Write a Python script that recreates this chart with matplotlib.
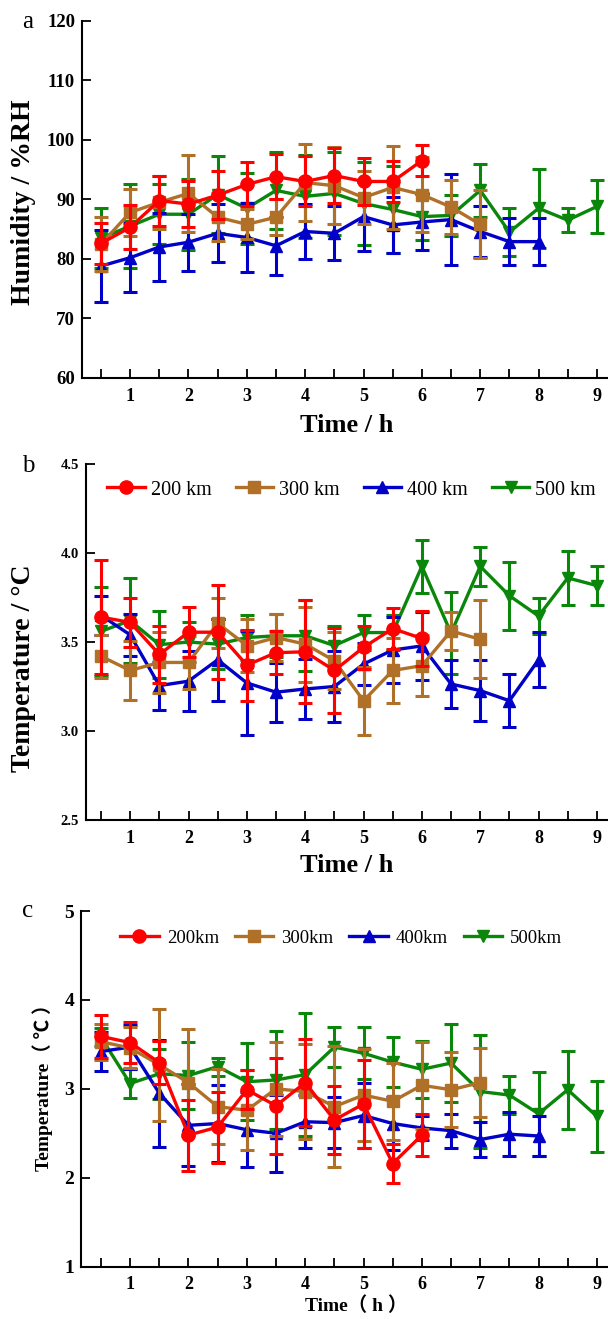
import matplotlib
matplotlib.use("Agg")
import matplotlib.pyplot as plt
from matplotlib.lines import Line2D
import numpy as np

plt.rcParams['font.family'] = ['Liberation Serif', 'Noto Sans CJK SC', 'DejaVu Sans']
plt.rcParams['mathtext.fontset'] = 'stix'

# ---------------- data ----------------
series_names = ["200 km", "300 km", "400 km", "500 km"]
series_names_c = ["200km", "300km", "400km", "500km"]
colors = ["#FF0000", "#B07028", "#0000C8", "#0A870A"]
markers = ["o", "s", "^", "v"]

x_200 = [0.5, 1, 1.5, 2, 2.5, 3, 3.5, 4, 4.5, 5, 5.5, 6]
x_300 = [0.5, 1, 1.5, 2, 2.5, 3, 3.5, 4, 4.5, 5, 5.5, 6, 6.5, 7]
x_400 = [0.5, 1, 1.5, 2, 2.5, 3, 3.5, 4, 4.5, 5, 5.5, 6, 6.5, 7, 7.5, 8]
x_500 = [0.5, 1, 1.5, 2, 2.5, 3, 3.5, 4, 4.5, 5, 5.5, 6, 6.5, 7, 7.5, 8, 8.5, 9]

# panel a: humidity (%RH)
hum_200 = [82.6, 85.3, 89.8, 89.2, 90.7, 92.5, 93.8, 93.0, 94.0, 93.0, 93.0, 96.5]
hum_200_err = [3.4, 3.7, 4.2, 3.8, 4.0, 3.7, 3.8, 4.2, 4.6, 3.9, 3.5, 2.6]
hum_300 = [82.5, 87.8, 89.5, 91.0, 87.0, 85.8, 87.0, 92.8, 92.3, 90.3, 92.0, 90.8, 88.7, 85.8]
hum_300_err = [4.5, 4.0, 4.5, 6.5, 4.0, 2.5, 3.0, 6.5, 6.5, 4.5, 7.0, 6.3, 4.6, 5.7]
hum_400 = [78.8, 80.2, 82.0, 82.8, 84.3, 83.6, 82.2, 84.6, 84.3, 87.1, 85.7, 86.2, 86.6, 84.6, 82.9, 82.9]
hum_400_err = [6.0, 5.8, 5.7, 4.8, 4.9, 5.8, 4.9, 4.7, 4.5, 5.8, 4.7, 4.7, 7.6, 4.2, 3.9, 3.9]
hum_500 = [83.5, 85.5, 87.5, 87.5, 90.8, 88.5, 91.5, 90.5, 91.0, 89.3, 88.3, 87.1, 87.3, 91.5, 84.5, 88.5, 86.5, 88.8]
hum_500_err = [5.0, 7.0, 5.0, 6.0, 6.5, 6.0, 6.5, 7.0, 7.0, 7.0, 7.3, 4.0, 3.5, 4.5, 4.0, 6.6, 2.0, 4.4]

# panel b: temperature (°C)
tb_200 = [3.64, 3.61, 3.43, 3.555, 3.555, 3.37, 3.44, 3.445, 3.34, 3.47, 3.575, 3.52]
tb_200_err = [0.32, 0.14, 0.16, 0.14, 0.265, 0.2, 0.12, 0.29, 0.24, 0.12, 0.115, 0.155]
tb_300 = [3.42, 3.34, 3.385, 3.385, 3.605, 3.48, 3.525, 3.488, 3.395, 3.17, 3.34, 3.367, 3.562, 3.515]
tb_300_err = [0.12, 0.165, 0.17, 0.15, 0.14, 0.15, 0.13, 0.21, 0.16, 0.19, 0.185, 0.17, 0.105, 0.22]
tb_400 = [3.65, 3.54, 3.255, 3.28, 3.40, 3.27, 3.218, 3.236, 3.25, 3.376, 3.455, 3.478, 3.264, 3.227, 3.17, 3.40]
tb_400_err = [0.11, 0.12, 0.135, 0.17, 0.23, 0.29, 0.165, 0.17, 0.2, 0.12, 0.185, 0.19, 0.135, 0.17, 0.15, 0.155]
tb_500 = [3.56, 3.62, 3.485, 3.50, 3.488, 3.525, 3.535, 3.535, 3.48, 3.553, 3.553, 3.925, 3.55, 3.925, 3.76, 3.646, 3.86, 3.817]
tb_500_err = [0.25, 0.24, 0.19, 0.11, 0.14, 0.125, 0.12, 0.2, 0.11, 0.1, 0.1, 0.15, 0.23, 0.11, 0.19, 0.1, 0.15, 0.11]

# panel c: temperature (°C)
tc_200 = [3.59, 3.52, 3.295, 2.48, 2.57, 2.99, 2.81, 3.07, 2.65, 2.83, 2.16, 2.48]
tc_200_err = [0.245, 0.23, 0.24, 0.4, 0.4, 0.22, 0.54, 0.49, 0.38, 0.5, 0.22, 0.235]
tc_300 = [3.53, 3.46, 3.27, 3.07, 2.80, 2.76, 3.0, 2.97, 2.80, 2.93, 2.86, 3.04, 2.99, 3.07]
tc_300_err = [0.2, 0.23, 0.63, 0.6, 0.42, 0.45, 0.53, 0.53, 0.68, 0.52, 0.43, 0.49, 0.42, 0.39]
tc_400 = [3.42, 3.47, 2.95, 2.59, 2.61, 2.54, 2.50, 2.63, 2.62, 2.70, 2.61, 2.56, 2.53, 2.43, 2.49, 2.47]
tc_400_err = [0.22, 0.25, 0.6, 0.46, 0.43, 0.42, 0.43, 0.3, 0.29, 0.37, 0.3, 0.13, 0.19, 0.2, 0.245, 0.22]
tc_500 = [3.58, 3.06, 3.17, 3.15, 3.25, 3.08, 3.10, 3.16, 3.47, 3.40, 3.30, 3.22, 3.29, 2.97, 2.93, 2.72, 2.99, 2.69]
tc_500_err = [0.1, 0.16, 0.28, 0.38, 0.1, 0.43, 0.55, 0.69, 0.22, 0.29, 0.28, 0.32, 0.44, 0.63, 0.21, 0.47, 0.44, 0.4]

x_ticks = [0.5, 1, 1.5, 2, 2.5, 3, 3.5, 4, 4.5, 5, 5.5, 6, 6.5, 7, 7.5, 8, 8.5, 9]
x_ticklabels = ["", "1", "", "2", "", "3", "", "4", "", "5", "", "6", "", "7", "", "8", "", "9"]

# ---------------- figure ----------------
W, H = 608, 1319
fig = plt.figure(figsize=(W / 100, H / 100), dpi=100)


def axes_px(left, top, bottom, right=608):
    return fig.add_axes([left / W, 1 - bottom / H, (right - left) / W, (bottom - top) / H])


ax_a = axes_px(82, 20.7, 378)
ax_b = axes_px(86, 464, 820)
ax_c = axes_px(81, 911, 1266.7)

xs = [x_200, x_300, x_400, x_500]
msizes = {"o": 9.5, "s": 8.5, "^": 9.0, "v": 9.0}


def draw(ax, ys, errs):
    handles = []
    for i in [3, 2, 1, 0]:
        ax.errorbar(xs[i], ys[i], yerr=errs[i], color=colors[i], marker=markers[i],
                    ms=msizes[markers[i]], mfc=colors[i], mec=colors[i], lw=2.4,
                    elinewidth=2.2, capsize=5, capthick=2.2, zorder=3 + (3 - i))
    for i in range(4):
        handles.append(Line2D([], [], color=colors[i], marker=markers[i], lw=2.4,
                              ms=msizes[markers[i]], mfc=colors[i], mec=colors[i]))
    return handles


def style(ax, xl, ylim, yticks, yticklabels, ysize, xsize=13):
    for s in ["top", "right"]:
        ax.spines[s].set_visible(False)
    for s in ["left", "bottom"]:
        ax.spines[s].set_linewidth(1.5)
    ax.set_xlim(*xl)
    ax.set_ylim(*ylim)
    ax.set_xticks(x_ticks)
    ax.set_xticklabels(x_ticklabels, fontweight="bold", fontsize=xsize)
    ax.set_yticks(yticks)
    ax.set_yticklabels(yticklabels, fontweight="bold", fontsize=ysize)
    ax.tick_params(axis="both", direction="in", length=6.5, width=1.3)
    ax.tick_params(axis="x", pad=7)
    ax.tick_params(axis="y", pad=5)
    ax.set_facecolor("none")


# panel a
draw(ax_a, [hum_200, hum_300, hum_400, hum_500],
     [hum_200_err, hum_300_err, hum_400_err, hum_500_err])
style(ax_a, (0.175, 9.19), (60, 120), [60, 70, 80, 90, 100, 110, 120],
      ["60", "70", "80", "90", "100", "110", "120"], 13.5)

# panel b
hb = draw(ax_b, [tb_200, tb_300, tb_400, tb_500],
          [tb_200_err, tb_300_err, tb_400_err, tb_500_err])
style(ax_b, (0.243, 9.19), (2.5, 4.5), [2.5, 3.0, 3.5, 4.0, 4.5],
      ["2.5", "3.0", "3.5", "4.0", "4.5"], 10.5)
ax_b.legend(hb, series_names, loc="center", bbox_to_anchor=(0.509, 0.927), ncol=4,
            frameon=False, fontsize=14.5, handlelength=1.85, handletextpad=0.3,
            columnspacing=1.2, borderaxespad=0, borderpad=0)

# panel c
hc = draw(ax_c, [tc_200, tc_300, tc_400, tc_500],
          [tc_200_err, tc_300_err, tc_400_err, tc_500_err])
style(ax_c, (0.158, 9.19), (1, 5), [1, 2, 3, 4, 5], ["1", "2", "3", "4", "5"], 14)
ax_c.legend(hc, series_names_c, loc="center", bbox_to_anchor=(0.494, 0.924), ncol=4,
            frameon=False, fontsize=13.5, handlelength=2.05, handletextpad=0.43,
            columnspacing=0.85, borderaxespad=0, borderpad=0)

# axis labels
fig.text(347 / W, 1 - 425 / H, "Time / h", ha="center", va="center", fontsize=19, fontweight="bold")
fig.text(347 / W, 1 - 865 / H, "Time / h", ha="center", va="center", fontsize=19, fontweight="bold")
fig.text(356 / W, 1 - 1306 / H, "Time（ h ）", ha="center", va="center", fontsize=14, fontweight="bold")

fig.text(24 / W, 1 - 202 / H, "Humidity / %RH", ha="center", va="center", rotation=90,
         fontsize=20, fontweight="bold")
fig.text(24 / W, 1 - 668 / H, "Temperature / °C", ha="center", va="center", rotation=90,
         fontsize=20, fontweight="bold")
fig.text(43 / W, 1 - 1083 / H, "Temperature（ ℃ ）", ha="center", va="center", rotation=90,
         fontsize=14, fontweight="bold")

# panel letters
fig.text(28 / W, 1 - 22 / H, "a", ha="center", va="center", fontsize=18)
fig.text(28 / W, 1 - 466 / H, "b", ha="center", va="center", fontsize=18)
fig.text(28 / W, 1 - 911 / H, "c", ha="center", va="center", fontsize=18)

fig.savefig("out.png", dpi=100)
